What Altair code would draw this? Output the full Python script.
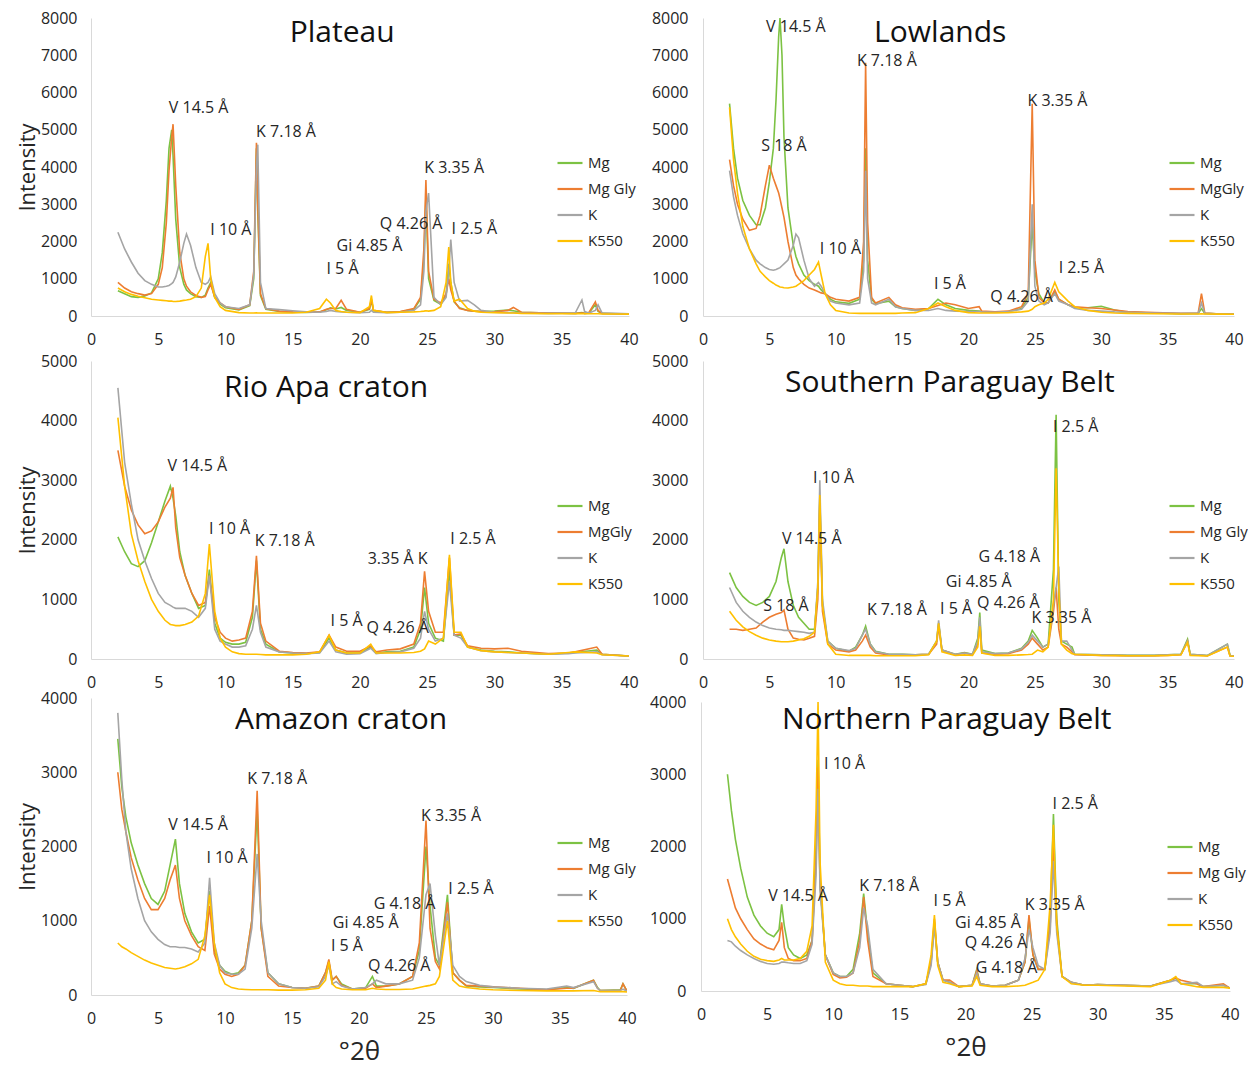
import altair as alt
import pandas as pd

FONT = "Open Sans"
TXT = "#262626"
COLORS = ["#7cc243", "#ed7d31", "#a5a5a5", "#ffc000"]
AXIS_GRAY = "#d9d9d9"

# ---------------- Plateau ----------------
X1 = [2, 2.5, 3, 3.5, 4, 4.5, 5, 5.3, 5.6, 5.8, 6.0, 6.1, 6.3, 6.6, 6.9, 7.1, 7.4, 7.8, 8.2, 8.5,
      8.7, 8.9, 9.2, 9.6, 10, 11, 11.8, 12.1, 12.3, 12.4, 12.6, 13, 14, 15, 16, 17, 17.5, 17.8, 18.2, 18.6,
      19, 20, 20.7, 20.85, 21, 22, 23, 24, 24.5, 24.75, 24.9, 25.1, 25.5, 26, 26.4, 26.6, 26.75, 27, 27.4, 28,
      28.5, 29, 30, 31, 31.4, 32, 34, 36, 36.5, 36.7, 37, 37.5, 37.7, 38, 39, 40]
P1_MG = [680, 600, 520, 500, 540, 620, 1000, 1700, 3100, 4500, 5000, 4300, 2600, 1300, 850, 700, 600, 520, 500, 560,
         750, 900, 500, 320, 220, 160, 280, 1000, 4500, 2800, 550, 180, 120, 100, 95, 110, 170, 220, 190, 230,
         150, 100, 180, 420, 140, 100, 110, 180, 450, 1500, 3200, 1000, 420, 320, 550, 1400, 900, 380, 220, 150,
         130, 120, 130, 160, 140, 100, 80, 70, 90, 70, 75, 300, 120, 70, 60, 50]
P1_MGGLY = [900, 750, 650, 600, 560, 600, 850, 1300, 2500, 3900, 4800, 5150, 3500, 1700, 1000, 800, 650, 550, 500, 520,
            700, 850, 500, 350, 250, 180, 300, 1200, 4650, 3000, 600, 200, 130, 110, 100, 110, 180, 200, 200, 420,
            180, 100, 200, 450, 150, 100, 120, 200, 500, 1800, 3650, 1200, 450, 350, 600, 1000, 700, 400, 200, 150,
            130, 120, 110, 150, 230, 100, 80, 70, 80, 70, 80, 380, 150, 70, 60, 50]
P1_K = [2250, 1800, 1450, 1150, 950, 850, 780, 780, 800, 820, 870, 900, 1050, 1450, 1950, 2200, 1900, 1300, 900, 850,
        900, 1050, 600, 350, 250, 200, 300, 1100, 4000, 4600, 900, 200, 170, 140, 110, 100, 120, 150, 120, 110,
        100, 90, 100, 150, 100, 90, 100, 150, 300, 1200, 2800, 3300, 500, 300, 500, 1200, 2050, 900, 400, 420,
        300, 150, 100, 90, 90, 80, 70, 80, 430, 120, 80, 150, 300, 80, 70, 60]
P1_K550 = [750, 650, 580, 530, 490, 450, 430, 420, 410, 400, 400, 390, 390, 400, 420, 430, 450, 520, 750, 1600,
           1950, 1000, 500, 250, 150, 90, 80, 80, 85, 80, 80, 80, 80, 80, 100, 200, 450, 350, 150, 120,
           100, 90, 250, 550, 150, 90, 100, 110, 120, 130, 140, 130, 150, 250, 900, 1850, 900, 400, 450, 200,
           130, 100, 90, 80, 80, 70, 60, 60, 60, 60, 60, 60, 60, 55, 55, 50]
P1_LABELS = ["V 14.5 Å", "K 7.18 Å", "I 10 Å", "Gi 4.85 Å", "Q 4.26 Å", "K 3.35 Å", "I 5 Å", "I 2.5 Å"]
P1_LX = [8.0, 14.5, 10.4, 20.7, 23.8, 27.0, 18.7, 28.5]
P1_LY = [5585, 4940, 2310, 1880, 2470, 3975, 1262, 2336]

# ---------------- Lowlands ----------------
X2 = [2, 2.3, 2.6, 3, 3.5, 4, 4.3, 4.7, 5.0, 5.3, 5.5, 5.7, 5.8, 5.95, 6.1, 6.4, 6.8, 7.0, 7.2, 7.6,
      8, 8.4, 8.7, 8.9, 9.2, 9.6, 10, 11, 11.8, 12.1, 12.25, 12.4, 12.7, 13, 14, 14.5, 15, 16, 17, 17.7,
      18.3, 19, 20, 20.8, 21, 22, 23, 24, 24.5, 24.8, 25.0, 25.3, 25.7, 26, 26.5, 26.8, 27.5, 28, 29, 30,
      31, 32, 34, 36, 37.3, 37.55, 37.8, 39, 40]
P2_MG = [5700, 4500, 3700, 3100, 2700, 2450, 2450, 2900, 3600, 4500, 5800, 7500, 8000, 7000, 4800, 2900, 1900, 1600, 1400, 1100,
         950, 850, 800, 700, 600, 450, 380, 340, 450, 1500, 4500, 1500, 450, 330, 400, 250, 200, 150, 200, 450,
         300, 200, 150, 130, 120, 100, 120, 200, 500, 2500, 1200, 600, 350, 350, 650, 450, 300, 220, 220, 260,
         160, 100, 80, 60, 70, 200, 70, 55, 50]
P2_MGGLY = [4200, 3500, 3000, 2600, 2300, 2350, 2700, 3500, 4050, 3700, 3500, 3300, 3150, 2900, 2650, 2000, 1300, 1100, 1000, 850,
            750, 700, 650, 620, 600, 500, 450, 400, 500, 2000, 6800, 2500, 500, 350, 500, 300, 220, 180, 200, 280,
            350, 300, 200, 250, 130, 110, 130, 250, 600, 5700, 1500, 500, 350, 350, 700, 450, 300, 250, 220, 200,
            160, 120, 90, 70, 80, 600, 80, 55, 50]
P2_K = [3900, 3200, 2700, 2200, 1800, 1500, 1400, 1300, 1250, 1230, 1250, 1280, 1300, 1350, 1400, 1500, 1900, 2200, 2100, 1500,
        1000, 800, 900, 800, 600, 400, 350, 300, 350, 1200, 3900, 1000, 350, 300, 450, 250, 200, 150, 150, 200,
        150, 130, 120, 120, 110, 100, 120, 180, 400, 3000, 800, 400, 300, 350, 600, 400, 300, 200, 150, 130,
        110, 100, 80, 70, 70, 350, 70, 55, 50]
P2_K550 = [5600, 4200, 3300, 2400, 1800, 1400, 1200, 1050, 950, 880, 830, 800, 780, 770, 760, 750, 780, 800, 850, 950,
           1100, 1250, 1450, 1100, 600, 300, 150, 80, 70, 70, 70, 70, 70, 70, 70, 70, 80, 90, 200, 350,
           250, 150, 90, 80, 80, 80, 90, 110, 130, 180, 250, 300, 350, 450, 900, 650, 400, 250, 150, 100,
           80, 70, 60, 55, 55, 60, 55, 50, 45]
P2_LABELS = ["V 14.5 Å", "K 7.18 Å", "S 18 Å", "I 10 Å", "K 3.35 Å", "I 5 Å", "Q 4.26 Å", "I 2.5 Å"]
P2_LX = [7.0, 13.85, 6.1, 10.35, 26.7, 18.6, 24.0, 28.5]
P2_LY = [7760, 6847, 4565, 1800, 5773, 860, 510, 1290]

# ---------------- Rio Apa craton ----------------
X3 = [2, 2.5, 3, 3.5, 4, 4.5, 5, 5.5, 5.9, 6.1, 6.3, 6.6, 7, 7.5, 8, 8.5, 8.8, 9.2, 9.6, 10,
      10.5, 11, 11.5, 12, 12.3, 12.6, 13, 14, 15, 16, 17, 17.7, 18.2, 19, 20, 20.8, 21.2, 22, 23, 24,
      24.5, 24.8, 25.1, 25.6, 26.2, 26.65, 27, 27.5, 28, 29, 30, 31, 32, 34, 35.5, 36, 37.6, 38, 40]
P3_MG = [2050, 1800, 1600, 1550, 1650, 1950, 2300, 2650, 2900, 2700, 2400, 1800, 1400, 1100, 850, 900, 1500, 600, 350, 280,
         250, 250, 280, 700, 1650, 500, 250, 120, 100, 90, 110, 350, 150, 100, 100, 200, 100, 120, 130, 200,
         500, 1200, 600, 350, 300, 1500, 400, 400, 200, 150, 130, 120, 100, 80, 100, 110, 150, 80, 50]
P3_MGGLY = [3500, 2900, 2500, 2250, 2100, 2150, 2300, 2550, 2700, 2880, 2200, 1700, 1400, 1100, 900, 950, 1400, 700, 450, 350,
            300, 320, 350, 800, 1730, 600, 300, 130, 110, 100, 120, 400, 200, 130, 130, 220, 120, 150, 170, 250,
            600, 1470, 800, 450, 450, 1700, 400, 420, 220, 180, 170, 180, 130, 90, 100, 120, 200, 80, 50]
P3_K = [4550, 3300, 2600, 2000, 1650, 1350, 1100, 950, 900, 870, 850, 850, 850, 800, 700, 850, 1400, 500, 300, 250,
        200, 200, 220, 500, 900, 450, 200, 120, 100, 90, 100, 300, 120, 80, 90, 180, 90, 110, 120, 180,
        350, 800, 500, 300, 350, 1300, 400, 350, 200, 140, 120, 110, 100, 80, 90, 100, 120, 70, 50]
P3_K550 = [4050, 2900, 2100, 1650, 1300, 1000, 800, 650, 580, 570, 560, 560, 580, 620, 720, 1100, 1930, 800, 350, 200,
           120, 90, 80, 80, 80, 75, 70, 70, 70, 80, 120, 400, 150, 100, 100, 250, 100, 100, 100, 110,
           130, 170, 300, 250, 350, 1750, 450, 450, 200, 140, 120, 110, 100, 80, 110, 120, 100, 70, 50]
P3_LABELS = ["V 14.5 Å", "I 10 Å", "K 7.18 Å", "3.35 Å K", "I 2.5 Å", "I 5 Å", "Q 4.26 Å"]
P3_LX = [7.9, 10.3, 14.4, 22.8, 28.4, 19.0, 22.8]
P3_LY = [3238, 2181, 1980, 1678, 2013, 638, 520]

# ---------------- Southern Paraguay Belt ----------------
X4 = [2, 2.5, 3, 3.5, 4, 4.5, 5, 5.5, 5.9, 6.1, 6.4, 6.8, 7.2, 7.6, 8, 8.4, 8.65, 8.8, 9.0, 9.4,
      10, 11, 11.5, 12, 12.25, 12.6, 13, 14, 15, 16, 17, 17.6, 17.75, 18, 19, 19.7, 20.3, 20.7, 20.85, 21,
      22, 23, 24, 24.5, 24.8, 25.2, 25.6, 26, 26.4, 26.6, 26.8, 27, 27.4, 27.8, 28, 30, 32, 34, 35, 36,
      36.5, 36.7, 38, 39.5, 39.7, 40]
P4_MG = [1450, 1200, 1050, 950, 900, 950, 1050, 1300, 1700, 1850, 1300, 900, 700, 600, 500, 500, 1200, 2700, 900, 300,
         180, 130, 200, 400, 550, 250, 130, 80, 80, 70, 80, 300, 600, 150, 80, 110, 80, 350, 780, 150,
         90, 100, 180, 300, 480, 350, 200, 250, 1500, 4100, 1000, 300, 250, 200, 80, 70, 60, 60, 70, 80,
         330, 80, 60, 250, 60, 50]
P4_MGGLY = [500, 500, 480, 500, 520, 620, 700, 750, 780, 820, 500, 350, 330, 320, 350, 380, 1000, 2600, 800, 250,
            150, 120, 150, 300, 400, 200, 100, 70, 70, 70, 80, 250, 550, 150, 70, 100, 70, 250, 600, 100,
            80, 90, 150, 250, 350, 250, 150, 200, 800, 1200, 500, 250, 200, 120, 70, 60, 55, 55, 60, 70,
            300, 70, 55, 200, 55, 45]
P4_K = [1200, 950, 800, 700, 620, 560, 520, 500, 490, 480, 480, 470, 460, 450, 430, 450, 1300, 3000, 1000, 300,
        180, 140, 180, 400, 500, 250, 120, 80, 80, 70, 80, 300, 650, 150, 80, 100, 80, 300, 700, 120,
        90, 100, 170, 280, 400, 300, 200, 250, 900, 1200, 1550, 300, 300, 150, 80, 70, 60, 60, 70, 80,
        300, 80, 60, 250, 60, 50]
P4_K550 = [800, 650, 540, 460, 400, 350, 320, 300, 290, 290, 290, 300, 320, 340, 380, 450, 1200, 2750, 900, 250,
           80, 60, 60, 60, 60, 60, 55, 55, 55, 55, 70, 300, 600, 120, 60, 70, 60, 200, 550, 100,
           60, 60, 70, 75, 80, 150, 120, 200, 1000, 3200, 1200, 250, 150, 90, 80, 60, 55, 55, 60, 70,
           280, 60, 50, 200, 50, 45]
P4_LABELS = ["I 2.5 Å", "I 10 Å", "V 14.5 Å", "G 4.18 Å", "Gi 4.85 Å", "S 18 Å", "K 7.18 Å", "I 5 Å",
             "Q 4.26 Å", "K 3.35 Å"]
P4_LX = [28.07, 9.83, 8.19, 23.08, 20.77, 6.25, 14.6, 19.06, 23.0, 27.0]
P4_LY = [3893, 3037, 2013, 1711, 1292, 889, 822, 839, 940, 688]

# ---------------- Amazon craton ----------------
X5 = [2, 2.3, 2.6, 3, 3.5, 4, 4.5, 5, 5.5, 5.9, 6.3, 6.6, 7, 7.5, 8, 8.5, 8.85, 9.2, 9.6, 10,
      10.5, 11, 11.5, 12, 12.4, 12.7, 13.2, 14, 15, 16, 17, 17.5, 17.75, 18, 18.3, 18.7, 19.5, 20.5, 21, 21.3,
      22, 23, 24, 24.5, 25, 25.3, 25.7, 26, 26.6, 27, 27.5, 28, 29, 30, 32, 34, 35.5, 36, 37.5, 37.8,
      38, 39.5, 39.7, 40]
P5_MG = [3450, 2800, 2400, 2050, 1750, 1500, 1300, 1220, 1400, 1750, 2100, 1500, 1100, 850, 700, 750, 1400, 600, 400, 320,
         280, 300, 400, 1000, 2500, 900, 300, 150, 100, 90, 120, 300, 450, 200, 250, 150, 80, 100, 250, 120,
         120, 150, 250, 600, 2000, 1200, 500, 400, 1350, 300, 200, 120, 110, 100, 80, 70, 100, 90, 200, 100,
         60, 70, 150, 50]
P5_MGGLY = [3000, 2500, 2200, 1850, 1550, 1300, 1150, 1150, 1300, 1550, 1750, 1300, 1000, 800, 650, 600, 1200, 550, 350, 280,
            250, 280, 400, 1000, 2750, 900, 250, 120, 100, 90, 120, 300, 480, 200, 250, 130, 80, 90, 150, 100,
            120, 150, 250, 700, 2350, 900, 450, 350, 1250, 300, 200, 130, 120, 110, 90, 70, 90, 90, 200, 90,
            60, 60, 150, 50]
P5_K = [3800, 2900, 2200, 1700, 1300, 1000, 850, 750, 680, 650, 650, 640, 640, 620, 580, 700, 1580, 700, 400, 300,
        280, 280, 350, 900, 1900, 1000, 300, 150, 100, 90, 110, 250, 400, 150, 180, 120, 80, 100, 150, 200,
        150, 150, 200, 500, 1350, 1500, 800, 400, 1100, 400, 250, 180, 130, 110, 90, 80, 120, 100, 180, 90,
        60, 60, 80, 50]
P5_K550 = [700, 650, 620, 570, 520, 470, 430, 400, 370, 360, 350, 360, 380, 420, 480, 800, 1350, 700, 300, 150,
           100, 80, 75, 70, 70, 70, 70, 65, 65, 70, 90, 200, 450, 150, 100, 80, 70, 70, 90, 80,
           75, 75, 80, 100, 120, 130, 150, 250, 1000, 200, 120, 100, 80, 70, 60, 55, 55, 55, 60, 50,
           45, 45, 45, 40]
P5_LABELS = ["V 14.5 Å", "K 7.18 Å", "I 10 Å", "K 3.35 Å", "G 4.18 Å", "I 2.5 Å", "Gi 4.85 Å", "I 5 Å", "Q 4.26 Å"]
P5_LX = [7.99, 13.9, 10.15, 26.87, 23.4, 28.36, 20.5, 19.1, 23.0]
P5_LY = [2290, 2909, 1845, 2411, 1226, 1428, 970, 660, 390]

# ---------------- Northern Paraguay Belt ----------------
X6 = [2, 2.3, 2.6, 3, 3.5, 4, 4.5, 5, 5.5, 5.9, 6.1, 6.3, 6.6, 7, 7.5, 8, 8.4, 8.7, 8.85, 9.0,
      9.4, 10, 10.5, 11, 11.5, 12, 12.3, 12.6, 13, 14, 15, 16, 17, 17.4, 17.65, 17.9, 18.3, 18.8, 19.5, 20.5,
      20.85, 21.1, 22, 23, 24, 24.5, 24.8, 25.1, 25.5, 26, 26.4, 26.65, 26.9, 27.3, 28, 29, 30, 32, 34, 35.5,
      35.9, 36.3, 37.5, 38, 39.5, 40]
P6_MG = [3000, 2500, 2100, 1700, 1300, 1050, 900, 800, 750, 850, 1200, 900, 600, 500, 450, 500, 700, 2000, 3200, 1500,
         500, 250, 200, 200, 300, 800, 1350, 800, 250, 100, 80, 60, 100, 400, 950, 400, 150, 120, 60, 80,
         300, 100, 70, 80, 150, 400, 1000, 500, 300, 300, 1000, 2450, 1000, 200, 120, 80, 90, 80, 70, 150,
         180, 100, 100, 60, 80, 40]
P6_MGGLY = [1550, 1350, 1150, 1000, 850, 720, 650, 600, 570, 700, 950, 600, 450, 420, 420, 450, 700, 1800, 3100, 1500,
            500, 230, 180, 190, 250, 700, 1300, 700, 200, 100, 80, 60, 100, 400, 1000, 400, 150, 150, 60, 80,
            280, 100, 70, 80, 150, 400, 1050, 500, 300, 300, 900, 2050, 900, 200, 120, 80, 90, 80, 70, 150,
            180, 150, 100, 60, 100, 40]
P6_K = [700, 680, 620, 560, 500, 450, 410, 380, 370, 380, 400, 400, 390, 380, 380, 420, 650, 1600, 2800, 1400,
        500, 250, 200, 200, 250, 600, 1150, 900, 300, 100, 80, 60, 90, 350, 900, 400, 150, 120, 60, 80,
        250, 100, 70, 80, 150, 450, 850, 600, 350, 300, 800, 1800, 800, 200, 120, 80, 90, 80, 70, 130,
        150, 100, 120, 60, 80, 40]
P6_K550 = [1000, 850, 750, 650, 550, 480, 440, 420, 410, 430, 450, 430, 430, 430, 450, 550, 900, 2500, 4000, 1800,
           400, 150, 100, 80, 80, 70, 70, 70, 60, 60, 60, 60, 100, 500, 1050, 350, 120, 100, 60, 70,
           200, 80, 60, 60, 70, 80, 100, 120, 150, 300, 1200, 2300, 900, 200, 100, 80, 80, 70, 60, 150,
           200, 100, 60, 50, 50, 40]
P6_LABELS = ["I 10 Å", "I 2.5 Å", "V 14.5 Å", "K 7.18 Å", "I 5 Å", "Gi 4.85 Å", "K 3.35 Å", "Q 4.26 Å", "G 4.18 Å"]
P6_LX = [10.86, 28.3, 7.34, 14.23, 18.8, 21.7, 26.74, 22.3, 23.1]
P6_LY = [3142, 2588, 1315, 1453, 1246, 941, 1190, 664, 318]


def panel(title, tx, ty, xs, names, series, ymax, ystep, labels, lx, ly,
          width, height, ytitle, xtitle, label_pad):
    rows = []
    for nm, vals in zip(names, series):
        assert len(vals) == len(xs), f"{title} {nm}: {len(vals)} vs {len(xs)}"
        rows += [{"x": a, "y": b, "s": nm} for a, b in zip(xs, vals)]
    df = pd.DataFrame(rows)
    ann = pd.DataFrame({"x": lx, "y": ly, "t": labels})
    ttl = pd.DataFrame({"x": [tx], "y": [ty], "t": [title]})

    xaxis = alt.Axis(values=list(range(0, 41, 5)), title=xtitle, labelFlush=False,
                     labelPadding=15, titlePadding=12, titleFontSize=26,
                     titleFontWeight="normal")
    yaxis = alt.Axis(values=list(range(0, ymax + 1, ystep)), format="d", title=ytitle,
                     labelPadding=label_pad, titlePadding=1, titleFontSize=22,
                     titleFontWeight="normal")
    xenc = alt.X("x:Q", scale=alt.Scale(domain=[0, 40], nice=False, zero=False), axis=xaxis)
    yenc = alt.Y("y:Q", scale=alt.Scale(domain=[0, ymax], nice=False), axis=yaxis)

    lines = alt.Chart(df).mark_line(strokeWidth=1.6, clip=True).encode(
        x=xenc, y=yenc,
        color=alt.Color("s:N", sort=names,
                        scale=alt.Scale(domain=names, range=COLORS),
                        legend=alt.Legend(orient="none", legendX=465, legendY=131, title=None,
                                          symbolType="stroke", symbolSize=625,
                                          symbolStrokeWidth=2.2, labelFont=FONT,
                                          labelFontSize=15, labelColor=TXT,
                                          rowPadding=4, labelOffset=4, padding=0)),
    )
    texts = alt.Chart(ann).mark_text(font=FONT, fontSize=16, color=TXT,
                                     align="center", baseline="middle").encode(
        x=xenc, y=yenc, text="t:N")
    head = alt.Chart(ttl).mark_text(font=FONT, fontSize=30, color="#111111",
                                    align="center", baseline="middle").encode(
        x=xenc, y=yenc, text="t:N")
    return alt.layer(lines, texts, head).properties(width=width, height=height)


NAMES_A = ["Mg", "Mg Gly", "K", "K550"]
NAMES_B = ["Mg", "MgGly", "K", "K550"]

p1 = panel("Plateau", 18.67, 7600, X1, NAMES_A, [P1_MG, P1_MGGLY, P1_K, P1_K550], 8000, 1000,
           P1_LABELS, P1_LX, P1_LY, 538, 298, "Intensity", None, 14)
p2 = panel("Lowlands", 17.87, 7600, X2, NAMES_B, [P2_MG, P2_MGGLY, P2_K, P2_K550], 8000, 1000,
           P2_LABELS, P2_LX, P2_LY, 531, 298, None, None, 15)
p3 = panel("Rio Apa craton", 17.48, 4547, X3, NAMES_B, [P3_MG, P3_MGGLY, P3_K, P3_K550], 5000, 1000,
           P3_LABELS, P3_LX, P3_LY, 538, 298, "Intensity", None, 14)
p4 = panel("Southern Paraguay Belt", 18.6, 4631, X4, NAMES_A, [P4_MG, P4_MGGLY, P4_K, P4_K550], 5000, 1000,
           P4_LABELS, P4_LX, P4_LY, 531, 298, None, None, 15)
p5 = panel("Amazon craton", 18.66, 3704, X5, NAMES_A, [P5_MG, P5_MGGLY, P5_K, P5_K550], 4000, 1000,
           P5_LABELS, P5_LX, P5_LY, 536, 297, "Intensity", "°2θ", 14)
p6 = panel("Northern Paraguay Belt", 18.58, 3751, X6, NAMES_A, [P6_MG, P6_MGGLY, P6_K, P6_K550], 4000, 1000,
           P6_LABELS, P6_LX, P6_LY, 529, 289, None, "°2θ", 15)


def row(a, b):
    return alt.hconcat(a, b, spacing=12, center=True).resolve_scale(
        color="independent").resolve_legend(color="independent")


lower = alt.vconcat(row(p3, p4), row(p5, p6), spacing=0).resolve_scale(
    color="independent").resolve_legend(color="independent")

chart = alt.vconcat(row(p1, p2), lower, spacing=6).resolve_scale(
    color="independent").resolve_legend(color="independent").properties(
    padding={"left": 8, "top": 2, "right": 0, "bottom": 6}
).configure_view(stroke=None).configure_axis(
    labelFont=FONT, titleFont=FONT, labelFontSize=16, labelColor=TXT, titleColor=TXT,
    ticks=False, grid=False, domainColor=AXIS_GRAY, domainWidth=1
)

chart.save("out.html", embed_options={"renderer": "svg", "actions": False})
